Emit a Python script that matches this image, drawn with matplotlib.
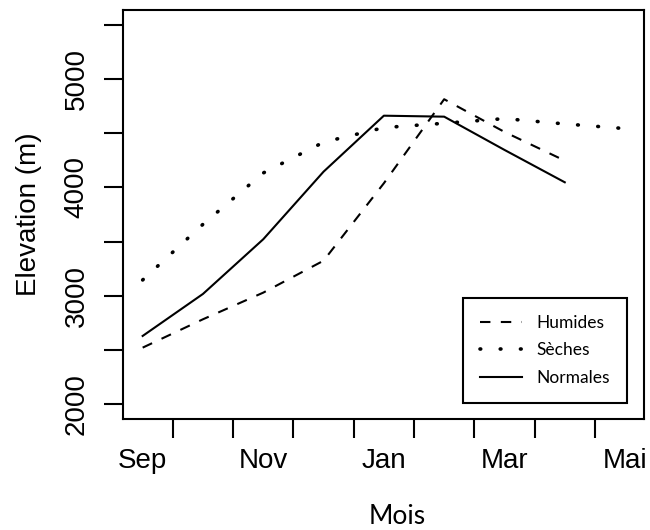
import matplotlib
matplotlib.use("Agg")
import matplotlib.pyplot as plt

# mois (Sep -> Mai) et altitudes
mois = ["Sep", "Oct", "Nov", "Dec", "Jan", "Fev", "Mar", "Avr", "Mai"]
humides = [2520, 2782, 3028, 3323, 4038, 4814, 4512, 4247]
seches = [3145, 3659, 4133, 4417, 4552, 4592, 4635, 4586, 4543]
normales = [2628, 3016, 3521, 4145, 4662, 4653, 4346, 4047]

etiquettes_x = ["Sep", "Nov", "Jan", "Mar", "Mai"]
pos_etiquettes = [0, 2, 4, 6, 8]
ticks_x = [0.5, 1.5, 2.5, 3.5, 4.5, 5.5, 6.5, 7.5]
ticks_y = [2000, 3000, 4000, 5000]
ticks_y_min = [2500, 3500, 4500, 5500]

fig = plt.figure(figsize=(6.5, 5.3), dpi=100)
ax = fig.add_axes([123 / 650, 1 - 419 / 530, 521 / 650, 409 / 530])

lw = 1.5
ax.plot(range(len(humides)), humides, color="black", lw=lw,
        dashes=(5, 5), label="Humides")
ax.plot(range(len(seches)), seches, color="black", lw=2.6,
        dashes=(0.2, 5.4), dash_capstyle="round", label="Sèches")
ax.plot(range(len(normales)), normales, color="black", lw=lw,
        label="Normales")

ax.set_xlim(-0.326, 8.314)
ax.set_ylim(1861, 5638)

for s in ax.spines.values():
    s.set_linewidth(1.5)

ax.set_xticks(ticks_x)
ax.set_xticklabels([])
ax.set_xticks(pos_etiquettes, minor=True)
ax.set_xticklabels(etiquettes_x, minor=True, fontsize=20,
                   family="Liberation Sans")
ax.tick_params(axis="x", which="major", length=14, width=1.5)
ax.tick_params(axis="x", which="minor", length=0, pad=21)

ax.set_yticks(ticks_y)
ax.set_yticklabels([str(v) for v in ticks_y], fontsize=20,
                   family="Liberation Sans", rotation=90, va="center")
ax.set_yticks(ticks_y_min, minor=True)
ax.tick_params(axis="y", which="both", length=14, width=1.5, pad=10)

fig.text(29 / 650, 1 - 214.5 / 530, "Elevation (m)", rotation=90,
         ha="center", va="center", fontsize=20, family="Liberation Sans")
fig.text(397 / 650, 1 - 517 / 530, "Mois", ha="center", va="center",
         fontsize=19, family="Lato")

leg = ax.legend(loc="lower right", bbox_to_anchor=(0.967, 0.039),
                prop={"family": "Lato", "size": 12.5}, fancybox=False,
                edgecolor="black", framealpha=1, handlelength=2.4,
                handletextpad=0.8, borderpad=1.0, labelspacing=0.65,
                borderaxespad=0)
leg.get_frame().set_linewidth(1.5)

fig.savefig("out.png", dpi=100)
